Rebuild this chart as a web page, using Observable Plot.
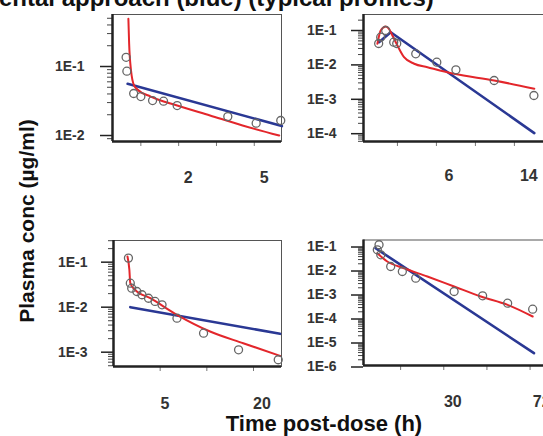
<!DOCTYPE html>
<html>
<head>
<meta charset="utf-8">
<script src="https://cdn.jsdelivr.net/npm/d3@7"></script>
<script src="https://cdn.jsdelivr.net/npm/@observablehq/plot@0.6"></script>
<style>
  body { margin: 0; background: #fff; }
  #root { position: relative; width: 543px; height: 436px; overflow: hidden; background: #fff;
          font-family: "Liberation Sans", Arial, sans-serif; }
  .panel { position: absolute; }
  .title { position: absolute; white-space: nowrap; font-weight: bold; color: #111; line-height: 1; }
</style>
</head>
<body>
<div id="root"></div>
<script>
// ---------- data (time in panel units, concentration in µg/ml) ----------
// Panel 1 (top-left)
const p1Red  = [[0.67,0.491],[0.69,0.215],[0.74,0.0875],[0.82,0.0531],[0.91,0.0464],[1.26,0.0367],[1.96,0.0272],[2.83,0.0195],[3.69,0.0140],[4.66,0.0100]];
const p1Blue = [[0.65,0.0561],[4.73,0.0137]];
const p1Obs  = [[0.61,0.136],[0.63,0.0855],[0.81,0.0406],[1.0,0.0367],[1.31,0.0321],[1.6,0.0314],[1.96,0.0272],[3.3,0.0188],[4.05,0.0151],[4.7,0.0165]];
// Panel 2 (top-right)
const p2Red  = [[0.486,0.041],[0.571,0.1],[0.699,0.131],[0.784,0.112],[0.871,0.0716],[1.0,0.0366],[1.17,0.0168],[1.43,0.0108],[1.77,0.00857],[2.45,0.00551],[3.48,0.00352],[4.51,0.00202]];
const p2Blue = [[0.527,0.0457],[0.828,0.0893],[4.51,0.000104]];
const p2Obs  = [[0.519,0.0419],[0.571,0.0638],[0.699,0.1],[0.905,0.0457],[0.982,0.0419],[1.47,0.021],[2.01,0.012],[2.5,0.0072],[3.48,0.00352],[4.5,0.00129]];
// Panel 3 (bottom-left)
const p3Red  = [[0.30,0.134],[0.34,0.0678],[0.36,0.0341],[0.46,0.0244],[0.79,0.0158],[1.36,0.00678],[2.07,0.00288],[2.78,0.00158],[3.57,0.00083]];
const p3Blue = [[0.36,0.01],[3.57,0.00256]];
const p3Obs  = [[0.32,0.123],[0.36,0.0341],[0.39,0.0264],[0.5,0.0223],[0.61,0.0189],[0.75,0.0158],[0.89,0.0134],[1.04,0.0113],[1.36,0.0057],[1.93,0.00264],[2.68,0.00113],[3.53,0.00068]];
// Panel 4 (bottom-right)
const p4Red  = [[0.46,0.0552],[0.69,0.0249],[1.08,0.0131],[1.62,0.0059],[2.24,0.00226],[2.86,0.000865],[3.48,0.00039],[4.06,0.000127]];
const p4Blue = [[0.42,0.0891],[4.09,3.76e-6]];
const p4Obs  = [[0.46,0.0764],[0.50,0.124],[0.54,0.0473],[0.77,0.0154],[1.04,0.00953],[1.35,0.00501],[2.24,0.0014],[2.9,0.000927],[3.48,0.000455],[4.06,0.000256]];

// ---------- tick labels ----------
const p1YTicks = [0.1, 0.01],                 p1YLabels = ["1E-1", "1E-2"];
const p2YTicks = [0.1, 0.01, 0.001, 0.0001],  p2YLabels = ["1E-1", "1E-2", "1E-3", "1E-4"];
const p3YTicks = [0.1, 0.01, 0.001],          p3YLabels = ["1E-1", "1E-2", "1E-3"];
const p4YTicks = [0.1, 0.01, 0.001, 1e-4, 1e-5, 1e-6], p4YLabels = ["1E-1", "1E-2", "1E-3", "1E-4", "1E-5", "1E-6"];
const p1XTicks = [1, 2, 3, 4], p1XLabelAt = [2.25, 4.26], p1XLabels = ["2", "5"];
const p2XTicks = [1, 2, 3, 4], p2XLabelAt = [2.32, 4.37], p2XLabels = ["6", "14"];
const p3XTicks = [1, 2, 3],    p3XLabelAt = [1.1, 3.18],  p3XLabels = ["5", "20"];
const p4XTicks = [1, 2, 3, 4], p4XLabelAt = [2.21, 4.27], p4XLabels = ["30", "72"];

const titleText = "ental approach (blue) (typical profiles)";
const yTitle = "Plasma conc (µg/ml)";
const xTitle = "Time post-dose (h)";

const RED = "#e3262b", BLUE = "#2a3894";
const root = document.getElementById("root");

function minorTicks([lo, hi]) {
  const out = [];
  for (let e = Math.floor(Math.log10(lo)); e <= Math.ceil(Math.log10(hi)); e++)
    for (let k = 2; k <= 9; k++) { const v = k * Math.pow(10, e); if (v >= lo && v <= hi) out.push(v); }
  return out;
}

function panel(c) {
  const [fl, ft, fr, fb] = c.frame;
  const labelMap = new Map(c.yTicks.map((v, i) => [v, c.yLabels[i]]));
  const xl = c.xLabelAt.map((v, i) => ({t: v, s: c.xLabels[i]}));
  const chart = Plot.plot({
    width: c.width, height: c.height,
    marginLeft: fl - c.left, marginTop: ft - c.top,
    marginRight: c.left + c.width - fr, marginBottom: c.top + c.height - fb,
    x: {domain: c.xDomain, label: null},
    y: {type: "log", domain: c.yDomain, label: null},
    style: {background: "transparent", fontFamily: '"Liberation Sans", Arial, sans-serif', fontSize: "14px", fontWeight: "bold", color: "#333", overflow: "visible"},
    marks: [
      Plot.frame({stroke: "#555", strokeWidth: 1}),
      Plot.axisY({ticks: minorTicks(c.yDomain), tickSize: 5, tickFormat: () => "", stroke: "#444", label: null}),
      Plot.axisY({ticks: c.yTicks, tickSize: 12, tickPadding: c.yPad, tickFormat: d => labelMap.get(d), stroke: "#222", strokeWidth: 1.5, label: null}),
      Plot.axisX({ticks: c.xTicks, tickSize: 5, tickFormat: () => "", stroke: "#777", label: null}),
      Plot.text(xl, {x: "t", text: "s", frameAnchor: "bottom", lineAnchor: "top", dy: c.xDy, fontSize: 16, fill: "#333"}),
      Plot.ruleX([c.xDomain[0]], {stroke: "#222", strokeWidth: 2.5}),
      Plot.ruleY([c.yDomain[0]], {stroke: "#222", strokeWidth: 2.5}),
      Plot.line(c.blue, {x: d => d[0], y: d => d[1], stroke: BLUE, strokeWidth: 2.6}),
      Plot.line(c.red, {x: d => d[0], y: d => d[1], stroke: RED, strokeWidth: 2, curve: "monotone-x"}),
      Plot.dot(c.obs, {x: d => d[0], y: d => d[1], r: 4, stroke: "#666", strokeWidth: 1.3, fill: "none"})
    ]
  });
  const div = document.createElement("div");
  div.className = "panel";
  div.style.left = c.left + "px"; div.style.top = c.top + "px"; div.style.width = c.width + "px";
  div.appendChild(chart);
  root.appendChild(div);
}

panel({left: 40, top: 0, width: 250, height: 190, frame: [112, 14, 281, 141],
  xDomain: [0.25, 4.72], yDomain: [0.00819, 0.567],
  yTicks: p1YTicks, yLabels: p1YLabels, yPad: 16, xTicks: p1XTicks, xLabelAt: p1XLabelAt, xLabels: p1XLabels, xDy: 30,
  red: p1Red, blue: p1Blue, obs: p1Obs});
panel({left: 290, top: 0, width: 270, height: 190, frame: [363, 14, 549, 141],
  xDomain: [0.13, 4.9], yDomain: [5.93e-5, 0.292],
  yTicks: p2YTicks, yLabels: p2YLabels, yPad: 15, xTicks: p2XTicks, xLabelAt: p2XLabelAt, xLabels: p2XLabels, xDy: 28,
  red: p2Red, blue: p2Blue, obs: p2Obs});
panel({left: 40, top: 215, width: 250, height: 200, frame: [113, 240, 281, 366],
  xDomain: [0, 3.6], yDomain: [4.81e-4, 0.303],
  yTicks: p3YTicks, yLabels: p3YLabels, yPad: 14, xTicks: p3XTicks, xLabelAt: p3XLabelAt, xLabels: p3XLabels, xDy: 31,
  red: p3Red, blue: p3Blue, obs: p3Obs});
panel({left: 290, top: 215, width: 270, height: 200, frame: [363, 239.5, 549, 365],
  xDomain: [0.14, 4.45], yDomain: [1.155e-6, 0.196],
  yTicks: p4YTicks, yLabels: p4YLabels, yPad: 15, xTicks: p4XTicks, xLabelAt: p4XLabelAt, xLabels: p4XLabels, xDy: 30,
  red: p4Red, blue: p4Blue, obs: p4Obs});

function addTitle(text, css) {
  const d = document.createElement("div");
  d.className = "title"; d.textContent = text; Object.assign(d.style, css); root.appendChild(d);
}
addTitle(titleText, {left: "-1px", top: "-14px", fontSize: "24px"});
addTitle(yTitle, {left: "26px", top: "221px", fontSize: "21px", transform: "translate(-50%,-50%) rotate(-90deg)"});
addTitle(xTitle, {left: "324px", top: "413px", fontSize: "22px", transform: "translateX(-50%)"});
</script>
</body>
</html>
